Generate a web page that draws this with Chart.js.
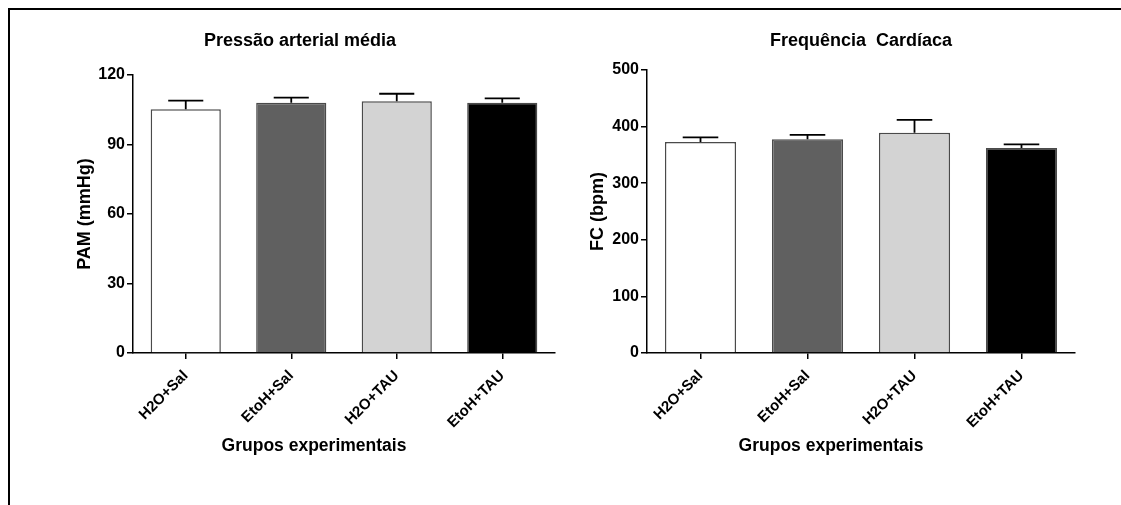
<!DOCTYPE html>
<html lang="pt">
<head>
<meta charset="utf-8">
<script src="https://cdn.jsdelivr.net/npm/chart.js@4.4.1/dist/chart.umd.min.js"></script>
<style>
  html, body { margin: 0; padding: 0; background: #fff; }
  #pagina { position: relative; width: 1121px; height: 505px; overflow: hidden; }
  #moldura { position: absolute; left: 8px; top: 8px; width: 1200px; height: 600px;
             border-top: 2px solid #000; border-left: 2px solid #000; }
  canvas { position: absolute; top: 0; }
</style>
</head>
<body>
<div id="pagina">
  <div id="moldura"></div>
  <canvas id="graficoPAM" width="560" height="505" style="left:0"></canvas>
  <canvas id="graficoFC" width="561" height="505" style="left:560px"></canvas>
</div>
<script>
// dados (media + erro padrao)
const grupos = ['H2O+Sal', 'EtoH+Sal', 'H2O+TAU', 'EtoH+TAU'];
const corBarras = ['#ffffff', '#606060', '#d3d3d3', '#000000'];
const pamMedia = [105.2, 108.0, 108.7, 108.0];
const pamErro = [3.7, 2.2, 3.2, 1.9];
const fcMedia = [372.7, 377.5, 389, 362];
const fcErro = [8.3, 8, 23, 6.6];

Chart.defaults.font.family = '"Liberation Sans", Arial, sans-serif';
Chart.defaults.color = '#000';

// barra de erro so para cima, com traco horizontal no topo
const barrasDeErro = {
  id: 'barrasDeErro',
  afterDatasetsDraw(chart) {
    const ctx = chart.ctx;
    const escalaY = chart.scales.y;
    const ds = chart.data.datasets[0];
    const meta = chart.getDatasetMeta(0);
    ctx.save();
    ctx.strokeStyle = '#000';
    ctx.lineWidth = 1.8;
    meta.data.forEach((barra, i) => {
      const topo = escalaY.getPixelForValue(ds.data[i] + ds.erros[i]);
      const meia = barra.width / 4;
      ctx.beginPath();
      ctx.moveTo(barra.x, barra.y);
      ctx.lineTo(barra.x, topo);
      ctx.moveTo(barra.x - meia, topo);
      ctx.lineTo(barra.x + meia, topo);
      ctx.stroke();
    });
    ctx.restore();
  }
};

// titulo do eixo x (no original fica um pouco a esquerda do centro)
const tituloEixoX = {
  id: 'tituloEixoX',
  afterDraw(chart, args, opts) {
    const { ctx, chartArea } = chart;
    ctx.save();
    ctx.font = 'bold 17.5px "Liberation Sans", Arial, sans-serif';
    ctx.fillStyle = '#000';
    ctx.textAlign = 'center';
    ctx.textBaseline = 'middle';
    ctx.fillText(opts.texto, (chartArea.left + chartArea.right) / 2 + opts.desvio, opts.y);
    ctx.restore();
  }
};

const montarGrafico = (id, cfg) => {
  const eixoComum = {
    grid: { offset: false, drawOnChartArea: false, tickLength: 6, color: '#000', lineWidth: 1.5 },
    border: { color: '#000', width: 1.5 }
  };
  return new Chart(document.getElementById(id), {
    type: 'bar',
    data: {
      labels: grupos,
      datasets: [{
        data: cfg.medias,
        erros: cfg.erros,
        backgroundColor: corBarras,
        borderColor: '#4a4a4a',
        borderWidth: 1.5,
        categoryPercentage: 1,
        barPercentage: 0.665
      }]
    },
    options: {
      responsive: false,
      animation: false,
      events: [],
      layout: { padding: { left: cfg.padEsq, right: cfg.padDir, top: 10, bottom: 52 } },
      plugins: {
        legend: { display: false },
        tooltip: { enabled: false },
        title: {
          display: true,
          text: cfg.titulo,
          fullSize: cfg.tituloLargo,
          font: { size: 18, weight: 'bold' },
          padding: { top: 20.2, bottom: cfg.titBaixo }
        },
        tituloEixoX: { texto: 'Grupos experimentais', desvio: -30, y: 446 }
      },
      scales: {
        x: {
          ...eixoComum,
          ticks: {
            autoSkip: false,
            minRotation: 45,
            maxRotation: 45,
            padding: 8,
            font: { size: 15, weight: 'bold' }
          },
          afterFit: (s) => { s.height = 100; }
        },
        y: {
          ...eixoComum,
          min: 0,
          max: cfg.maximo,
          ticks: { stepSize: cfg.passo, padding: 2, font: { size: 16, weight: 'bold' } },
          title: {
            display: true,
            text: cfg.tituloY,
            font: { size: 18, weight: 'bold' },
            padding: { top: cfg.padTituloY, bottom: 0 }
          },
          afterFit: (s) => { s.width = cfg.larguraY; }
        }
      }
    },
    plugins: [barrasDeErro, tituloEixoX]
  });
};

montarGrafico('graficoPAM', {
  medias: pamMedia, erros: pamErro,
  titulo: 'Pressão arterial média', tituloLargo: true, titBaixo: 23.2,
  tituloY: 'PAM (mmHg)', padTituloY: 29, larguraY: 88,
  maximo: 120, passo: 30, padEsq: 45, padDir: 5
});

montarGrafico('graficoFC', {
  medias: fcMedia, erros: fcErro,
  titulo: 'Frequência  Cardíaca', tituloLargo: false, titBaixo: 18.2,
  tituloY: 'FC (bpm)', padTituloY: 7.7, larguraY: 67,
  maximo: 500, passo: 100, padEsq: 20, padDir: 46
});
</script>
</body>
</html>
